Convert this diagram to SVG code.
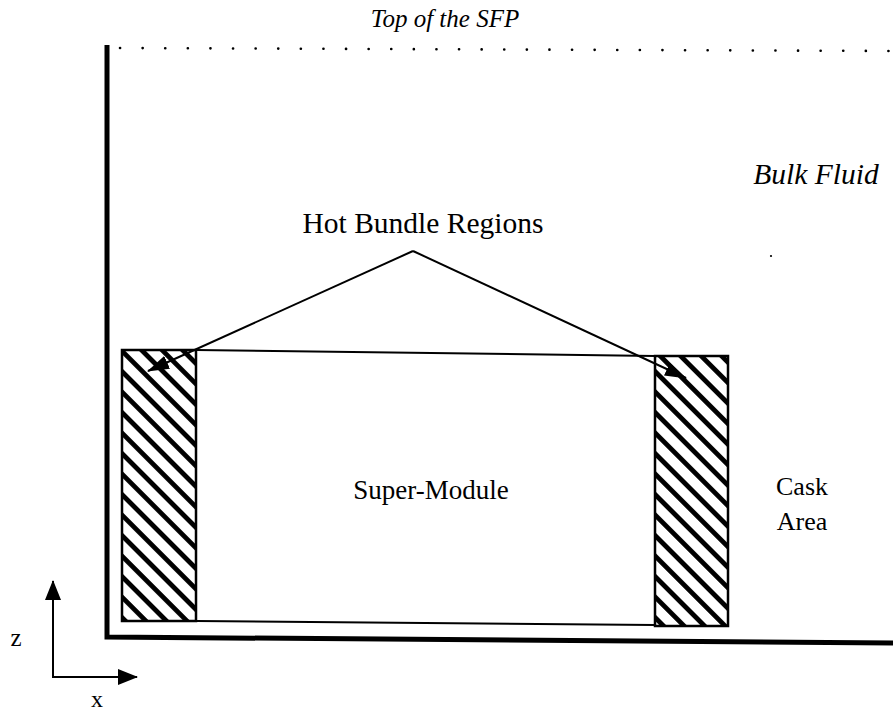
<svg xmlns="http://www.w3.org/2000/svg" width="893" height="713" viewBox="0 0 893 713">
<style>
text{font-family:'Liberation Serif','Times New Roman',Times,serif;fill:#000}
.it{font-style:italic}
.thin{fill:none;stroke:#000;stroke-width:2}
.hot{fill:url(#hatch);stroke:#000;stroke-width:2.5}
</style>
<defs>
<pattern id="hatch" patternUnits="userSpaceOnUse" width="14.5" height="14.5" patternTransform="rotate(45)">
<rect x="0" y="0" width="14.5" height="4.8" fill="#000"/>
</pattern>
<marker id="ah" viewBox="0 0 22 14" refX="21" refY="7" markerWidth="22" markerHeight="14" markerUnits="userSpaceOnUse" orient="auto">
<path d="M0,0 L22,7 L0,14 Z" fill="#000"/>
</marker>
<marker id="axh" viewBox="0 0 20 16" refX="19" refY="8" markerWidth="20" markerHeight="16" markerUnits="userSpaceOnUse" orient="auto">
<path d="M0,0 L20,8 L0,16 Z" fill="#000"/>
</marker>
</defs>
<rect width="893" height="713" fill="#fff"/>

<g id="pool-wall">
<polyline points="107,45 107,637 893,643" fill="none" stroke="#000" stroke-width="5" stroke-linejoin="miter"/>
</g>

<g id="sfp-top">
<line x1="120" y1="48" x2="893" y2="51" stroke="#000" stroke-width="2.6" stroke-linecap="round" stroke-dasharray="0.1 22.5"/>
<text class="it" x="445" y="27" font-size="25" text-anchor="middle">Top of the SFP</text>
</g>

<g id="bulk-fluid">
<text class="it" x="816" y="184" font-size="29.5" text-anchor="middle">Bulk Fluid</text>
<circle cx="771" cy="256" r="1.1" fill="#000"/>
</g>

<g id="super-module">
<line class="thin" x1="196" y1="350" x2="655" y2="356"/>
<line class="thin" x1="196" y1="621" x2="655" y2="625"/>
<text x="431" y="499" font-size="27" text-anchor="middle">Super-Module</text>
</g>

<g id="hot-left">
<rect class="hot" x="122" y="350" width="74" height="271"/>
</g>

<g id="hot-right">
<rect class="hot" x="655" y="356" width="73" height="270"/>
</g>

<g id="hot-label">
<text x="423" y="233" font-size="29.5" text-anchor="middle">Hot Bundle Regions</text>
</g>

<g id="cask-area">
<text x="802" y="495" font-size="26" text-anchor="middle">Cask</text>
<text x="802" y="530" font-size="26" text-anchor="middle">Area</text>
</g>

<g id="connectors">
<line class="thin" x1="413" y1="251" x2="148" y2="371" marker-end="url(#ah)"/>
<line class="thin" x1="413" y1="251" x2="686" y2="378" marker-end="url(#ah)"/>
</g>

<g id="axes">
<line class="thin" x1="53" y1="678" x2="53" y2="581" marker-end="url(#axh)"/>
<line class="thin" x1="52" y1="677" x2="137" y2="677" marker-end="url(#axh)"/>
<text x="16" y="646" font-size="25" text-anchor="middle">z</text>
<text x="97" y="707" font-size="24" text-anchor="middle">x</text>
</g>
</svg>
